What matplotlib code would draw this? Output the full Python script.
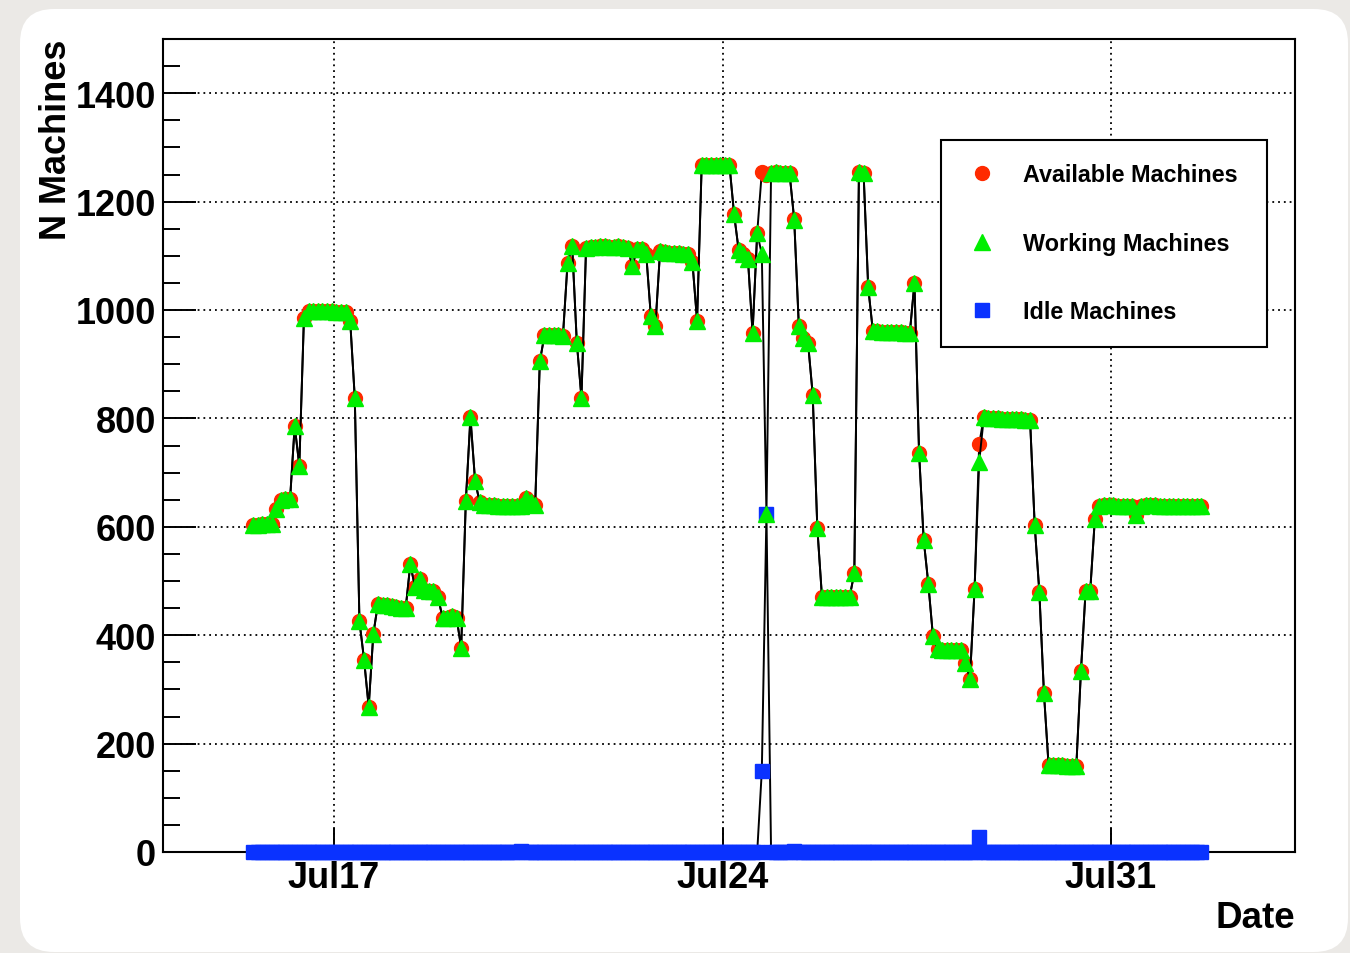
import numpy as np
import matplotlib.pyplot as plt
import matplotlib.dates as mdates
from matplotlib.patches import FancyBboxPatch
from matplotlib.ticker import FixedLocator, MultipleLocator

plt.rcParams['font.family'] = ['Liberation Sans', 'DejaVu Sans']
plt.rcParams['font.weight'] = 'bold'

# one reading every 2 hours
start = np.datetime64('2010-07-15T13:00')
step = np.timedelta64(2, 'h')

available = [
    603, 604, 605, 605, 606, 633, 650, 652, 651, 786,
    713, 985, 999, 999, 999, 998, 998, 998, 997, 997,
    996, 980, 837, 426, 355, 268, 402, 458, 456, 455,
    453, 452, 451, 450, 531, 489, 504, 483, 482, 481,
    470, 431, 432, 435, 432, 377, 647, 802, 685, 645,
    641, 640, 640, 639, 639, 638, 638, 639, 641, 653,
    646, 641, 905, 953, 953, 953, 953, 952, 1087, 1118,
    940, 838, 1115, 1116, 1117, 1118, 1118, 1117, 1117, 1118,
    1117, 1115, 1081, 1112, 1112, 1104, 989, 971, 1109, 1107,
    1106, 1105, 1105, 1104, 1103, 1088, 980, 1268, 1268, 1268,
    1268, 1268, 1268, 1268, 1177, 1110, 1103, 1094, 958, 1142,
    1255, 1250, 1253, 1254, 1253, 1253, 1252, 1168, 971, 948,
    939, 844, 598, 471, 471, 471, 471, 470, 471, 471,
    515, 1255, 1253, 1042, 962, 961, 960, 960, 959, 959,
    959, 958, 958, 1050, 736, 576, 495, 398, 374, 373,
    373, 373, 373, 372, 349, 320, 485, 753, 802, 801,
    800, 800, 799, 799, 798, 798, 798, 797, 797, 603,
    480, 293, 160, 160, 160, 160, 159, 159, 159, 334,
    481, 481, 614, 639, 640, 640, 640, 639, 639, 639,
    638, 622, 639, 640, 640, 640, 639, 639, 639, 639,
    639, 639, 638, 638, 638, 638,
]

working = [
    603, 604, 605, 605, 606, 633, 650, 652, 651, 786,
    713, 985, 999, 999, 999, 998, 998, 998, 997, 997,
    996, 980, 837, 426, 355, 268, 402, 458, 456, 455,
    453, 452, 451, 450, 531, 489, 504, 483, 482, 481,
    470, 431, 432, 435, 432, 377, 647, 802, 685, 645,
    641, 640, 640, 639, 639, 638, 638, 639, 639, 653,
    646, 641, 905, 953, 953, 953, 953, 952, 1087, 1118,
    940, 838, 1115, 1116, 1117, 1118, 1118, 1117, 1117, 1118,
    1117, 1115, 1081, 1112, 1112, 1104, 989, 971, 1109, 1107,
    1106, 1105, 1105, 1104, 1103, 1088, 980, 1268, 1268, 1268,
    1268, 1268, 1268, 1268, 1177, 1110, 1103, 1094, 958, 1142,
    1103, 624, 1253, 1254, 1253, 1253, 1252, 1166, 971, 948,
    939, 844, 598, 471, 471, 471, 471, 470, 471, 471,
    515, 1255, 1253, 1042, 962, 961, 960, 960, 959, 959,
    959, 958, 958, 1050, 736, 576, 495, 398, 374, 373,
    373, 373, 373, 372, 349, 320, 485, 720, 802, 801,
    800, 800, 799, 799, 798, 798, 798, 797, 797, 603,
    480, 293, 160, 160, 160, 160, 159, 159, 159, 334,
    481, 481, 614, 639, 640, 640, 640, 639, 639, 639,
    638, 622, 639, 640, 640, 640, 639, 639, 639, 639,
    639, 639, 638, 638, 638, 638,
]

idle = [
    0, 0, 0, 0, 0, 0, 0, 0, 0, 0,
    0, 0, 0, 0, 0, 0, 0, 0, 0, 0,
    0, 0, 0, 0, 0, 0, 0, 0, 0, 0,
    0, 0, 0, 0, 0, 0, 0, 0, 0, 0,
    0, 0, 0, 0, 0, 0, 0, 0, 0, 0,
    0, 0, 0, 0, 0, 0, 0, 0, 2, 0,
    0, 0, 0, 0, 0, 0, 0, 0, 0, 0,
    0, 0, 0, 0, 0, 0, 0, 0, 0, 0,
    0, 0, 0, 0, 0, 0, 0, 0, 0, 0,
    0, 0, 0, 0, 0, 0, 0, 0, 0, 0,
    0, 0, 0, 0, 0, 0, 0, 0, 0, 0,
    150, 624, 0, 0, 0, 0, 0, 2, 0, 0,
    0, 0, 0, 0, 0, 0, 0, 0, 0, 0,
    0, 0, 0, 0, 0, 0, 0, 0, 0, 0,
    0, 0, 0, 0, 0, 0, 0, 0, 0, 0,
    0, 0, 0, 0, 0, 0, 0, 27, 0, 0,
    0, 0, 0, 0, 0, 0, 0, 0, 0, 0,
    0, 0, 0, 0, 0, 0, 0, 0, 0, 0,
    0, 0, 0, 0, 0, 0, 0, 0, 0, 0,
    0, 0, 0, 0, 0, 0, 0, 0, 0, 0,
    0, 0, 0, 0, 0, 0,
]

tick_days = ['2010-07-17', '2010-07-24', '2010-07-31']

RED = '#ff2a00'
GREEN = '#00ee00'
BLUE = '#0a32ff'

t = start + np.arange(len(available)) * step
x = mdates.date2num(t)

fig = plt.figure(figsize=(13.5, 9.54), dpi=100, facecolor='#ebe9e6')

# white card behind the canvas, in pixel units
bg = fig.add_axes([0, 0, 1, 1])
bg.set_xlim(0, 1350)
bg.set_ylim(954, 0)
bg.axis('off')
bg.add_patch(FancyBboxPatch((20, 10), 1328, 943,
                            boxstyle='round,pad=0,rounding_size=34',
                            fc='white', ec='none'))

ax = fig.add_axes([163/1350, 1 - 853/954, 1132/1350, 813/954])
ax.set_facecolor('white')

series = [
    (available, 'o', 10, RED, 'Available Machines'),
    (idle, 's', 10.5, BLUE, 'Idle Machines'),
    (working, '^', 11, GREEN, 'Working Machines'),
]
handles = {}
z = 3
for vals, mk, ms, col, lab in series:
    ax.plot(x, vals, color='black', lw=1.4, clip_on=False, zorder=z)
    h, = ax.plot(x, vals, ls='none', marker=mk, ms=ms, mfc=col, mec=col,
                 clip_on=False, zorder=z + 0.1, label=lab)
    handles[lab] = h
    z += 0.2

jul17 = mdates.date2num(np.datetime64('2010-07-17'))
ax.set_xlim(jul17 - 3.081, jul17 + 17.315)
ax.set_ylim(0, 1500)

ax.xaxis.set_major_locator(FixedLocator(mdates.date2num(np.array(tick_days, dtype='datetime64[D]'))))
ax.xaxis.set_major_formatter(mdates.DateFormatter('%b%d'))
ax.yaxis.set_major_locator(MultipleLocator(200))
ax.yaxis.set_minor_locator(MultipleLocator(50))

ax.tick_params(axis='y', which='major', direction='in', length=24, width=1.4,
               labelsize=26, pad=5, right=False)
ax.tick_params(axis='y', which='minor', direction='in', length=12, width=1.4, right=False)
ax.tick_params(axis='x', which='major', direction='in', length=17, width=1.4,
               labelsize=26, pad=6, top=False)
ax.tick_params(axis='x', which='minor', bottom=False, top=False)

ax.set_axisbelow(True)
ax.grid(True, which='major', color='black', linestyle=(0, (1, 2.2)), linewidth=1.3)
for sp in ax.spines.values():
    sp.set_linewidth(1.5)

fig.text(56/1350, 1 - 40/954, 'N Machines', rotation=90, ha='center', va='top',
         fontsize=26, fontweight='bold')
fig.text(1295/1350, 1 - 919/954, 'Date', ha='right', va='center',
         fontsize=26.5, fontweight='bold')

# legend box spans 941..1267 px horizontally, top at 141 px
leg = ax.legend(handles=[handles['Available Machines'], handles['Working Machines'],
                         handles['Idle Machines']],
                loc='upper left', mode='expand',
                bbox_to_anchor=(941/1350, 1 - 141/954, 326/1350, 0),
                bbox_transform=fig.transFigure, borderaxespad=0,
                frameon=True, fancybox=False, edgecolor='black', framealpha=1,
                prop={'size': 16.8, 'weight': 'bold'}, borderpad=1.0,
                labelspacing=1.95, handlelength=1.55, handletextpad=0.95)
leg.get_frame().set_linewidth(1.5)
leg.set_zorder(10)

fig.savefig('out.png', dpi=100, facecolor=fig.get_facecolor())
